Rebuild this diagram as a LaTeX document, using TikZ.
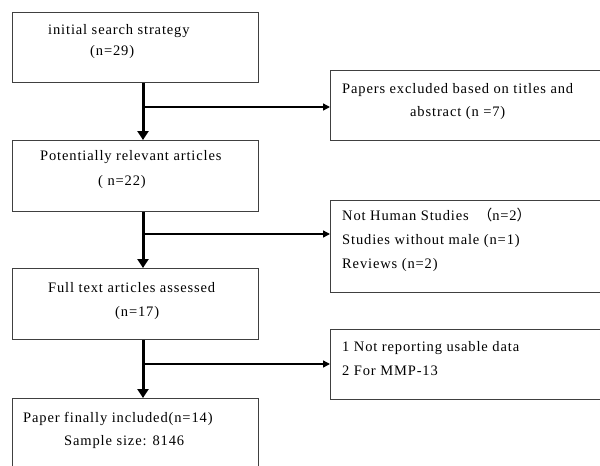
\documentclass[tikz,border=0pt]{standalone}
\usepackage{fontspec}
\setmainfont[LetterSpace=6]{Liberation Serif}
\newfontfamily\cjk{Noto Sans CJK SC}
\usetikzlibrary{arrows.meta}
\tikzset{
  box/.style={draw=black!75, line width=1.3pt, minimum width=#1, inner sep=0pt, anchor=north west},
  txt/.style={anchor=base west, inner sep=0pt, font=\fontsize{14.5}{16}\selectfont},
  mainarrow/.style={line width=3pt, -{Triangle[length=9pt,width=11pt]}},
  sidearrow/.style={line width=1.4pt, -{Triangle[length=7pt,width=7pt]}},
}
\begin{document}
\begin{tikzpicture}[x=1pt,y=-1pt]
\useasboundingbox (0,0) rectangle (600,466);
\clip (0,0) rectangle (600,466);
% left boxes
\node[box=246pt, minimum height=70pt] (b1) at (12,12) {};
\node[box=246pt, minimum height=71pt] (b2) at (12,140) {};
\node[box=246pt, minimum height=71pt] (b3) at (12,268) {};
\node[box=246pt, minimum height=80pt] (b4) at (12,398) {};
% right boxes
\node[box=290pt, minimum height=70pt] (r1) at (330,70) {};
\node[box=290pt, minimum height=92pt] (r2) at (330,200) {};
\node[box=290pt, minimum height=70pt] (r3) at (330,329) {};
% texts
\node[txt] (t1a) at (48,34) {initial search strategy};
\node[txt] (t1b) at (90,55) {(n=29)};
\node[txt] (t2a) at (40,160) {Potentially relevant articles};
\node[txt] (t2b) at (98,185) {( n=22)};
\node[txt] (t3a) at (48,292) {Full text articles assessed};
\node[txt] (t3b) at (115,316) {(n=17)};
\node[txt] (t4a) at (23,422) {Paper finally included(n=14)};
\node[txt] (t4b) at (64,445) {Sample size: 8146};
\node[txt] (u1a) at (342,93) {Papers excluded based on titles and};
\node[txt] (u1b) at (410,116) {abstract (n =7)};
\node[txt] (u2a) at (342,220) {Not Human Studies\ \ {\cjk （}n=2{\cjk ）}};
\node[txt] (u2b) at (342,244) {Studies without male (n=1)};
\node[txt] (u2c) at (342,268) {Reviews (n=2)};
\node[txt] (u3a) at (342,351) {1 Not reporting usable data};
\node[txt] (u3b) at (342,375) {2 For MMP-13};
% connectors
\coordinate (k1) at (143,107);
\coordinate (k2) at (143,234);
\coordinate (k3) at (143,364);
\draw[mainarrow] (b1.south -| k1) -- (b2.north -| k1);
\draw[mainarrow] (b2.south -| k2) -- (b3.north -| k2);
\draw[mainarrow] (b3.south -| k3) -- (b4.north -| k3);
\draw[sidearrow] (k1) -- (k1 -| r1.west);
\draw[sidearrow] (k2) -- (k2 -| r2.west);
\draw[sidearrow] (k3) -- (k3 -| r3.west);
\end{tikzpicture}
\end{document}
